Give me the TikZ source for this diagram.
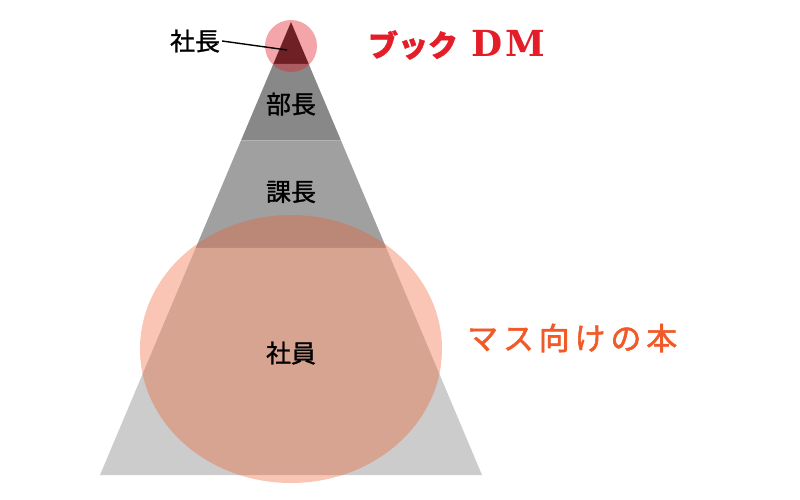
\documentclass[tikz,border=0pt]{standalone}
\usepackage{fontspec}
\newfontfamily\jp[FakeBold=1.2]{Noto Sans CJK JP}
\newfontfamily\jpwide[LetterSpace=16, FakeBold=1.8]{Noto Sans CJK JP}
\newfontfamily\dmfont[LetterSpace=8]{DejaVu Serif}
\usetikzlibrary{positioning, calc}
\definecolor{topgray}{HTML}{222222}
\definecolor{bugray}{HTML}{888888}
\definecolor{kagray}{HTML}{A0A0A0}
\definecolor{shgray}{HTML}{CCCCCC}
\definecolor{dmred}{RGB}{228,30,40}
\definecolor{massorange}{RGB}{240,90,40}

\begin{document}
\begin{tikzpicture}[
    x=1bp, y=-1bp,
    band/.style   = {draw=none},
    tier/.style   = {font=\jp\fontsize{25}{28}\selectfont, text=black, inner sep=2pt},
    topcirc/.style= {fill=dmred, fill opacity=0.4, draw=none},
    masscirc/.style={fill=massorange, fill opacity=0.35, draw=none},
    dmlab/.style  = {text=dmred, anchor=west, inner sep=0pt},
    masslab/.style= {font=\jpwide\fontsize{31}{34}\selectfont, text=massorange, anchor=west, inner sep=0pt},
]
\useasboundingbox (0,0) rectangle (800,500);

% ---- pyramid bands, top to bottom ----
\fill[band, topgray] (291,22) -- (308.7,64) -- (273.3,64) -- cycle;
\fill[band, bugray]  (273.3,64) -- (308.7,64) -- (341,140.5) -- (241,140.5) -- cycle;
\fill[band, kagray]  (241,140.5) -- (341,140.5) -- (386.3,248) -- (195.7,248) -- cycle;
\fill[band, shgray]  (195.7,248) -- (386.3,248) -- (482,475) -- (100,475) -- cycle;

% ---- target circles ----
\fill[topcirc]  (291,46) circle [radius=26];
\fill[masscirc] (291,349) ellipse [x radius=151, y radius=134];

% ---- tier labels ----
\node[tier] (shacho) at (195,41)  {社長};
\node[tier] (bucho)  at (291,104) {部長};
\node[tier] (kacho)  at (291,192) {課長};
\node[tier] (shain)  at (291,353) {社員};

% leader from the president label to the apex
\coordinate (apexpt) at (287,50);
\draw[line width=1.4pt] (shacho.east) -- (apexpt);

% ---- what reaches each group ----
\node[dmlab] (bookdm) at (368,45)
     {{\jp\bfseries\fontsize{30}{34}\selectfont ブック}\hspace{14bp}{\dmfont\bfseries\fontsize{36}{38}\selectfont DM}};
\node[masslab] (massbook) at (467,338) {マス向けの本};

\end{tikzpicture}
\end{document}
